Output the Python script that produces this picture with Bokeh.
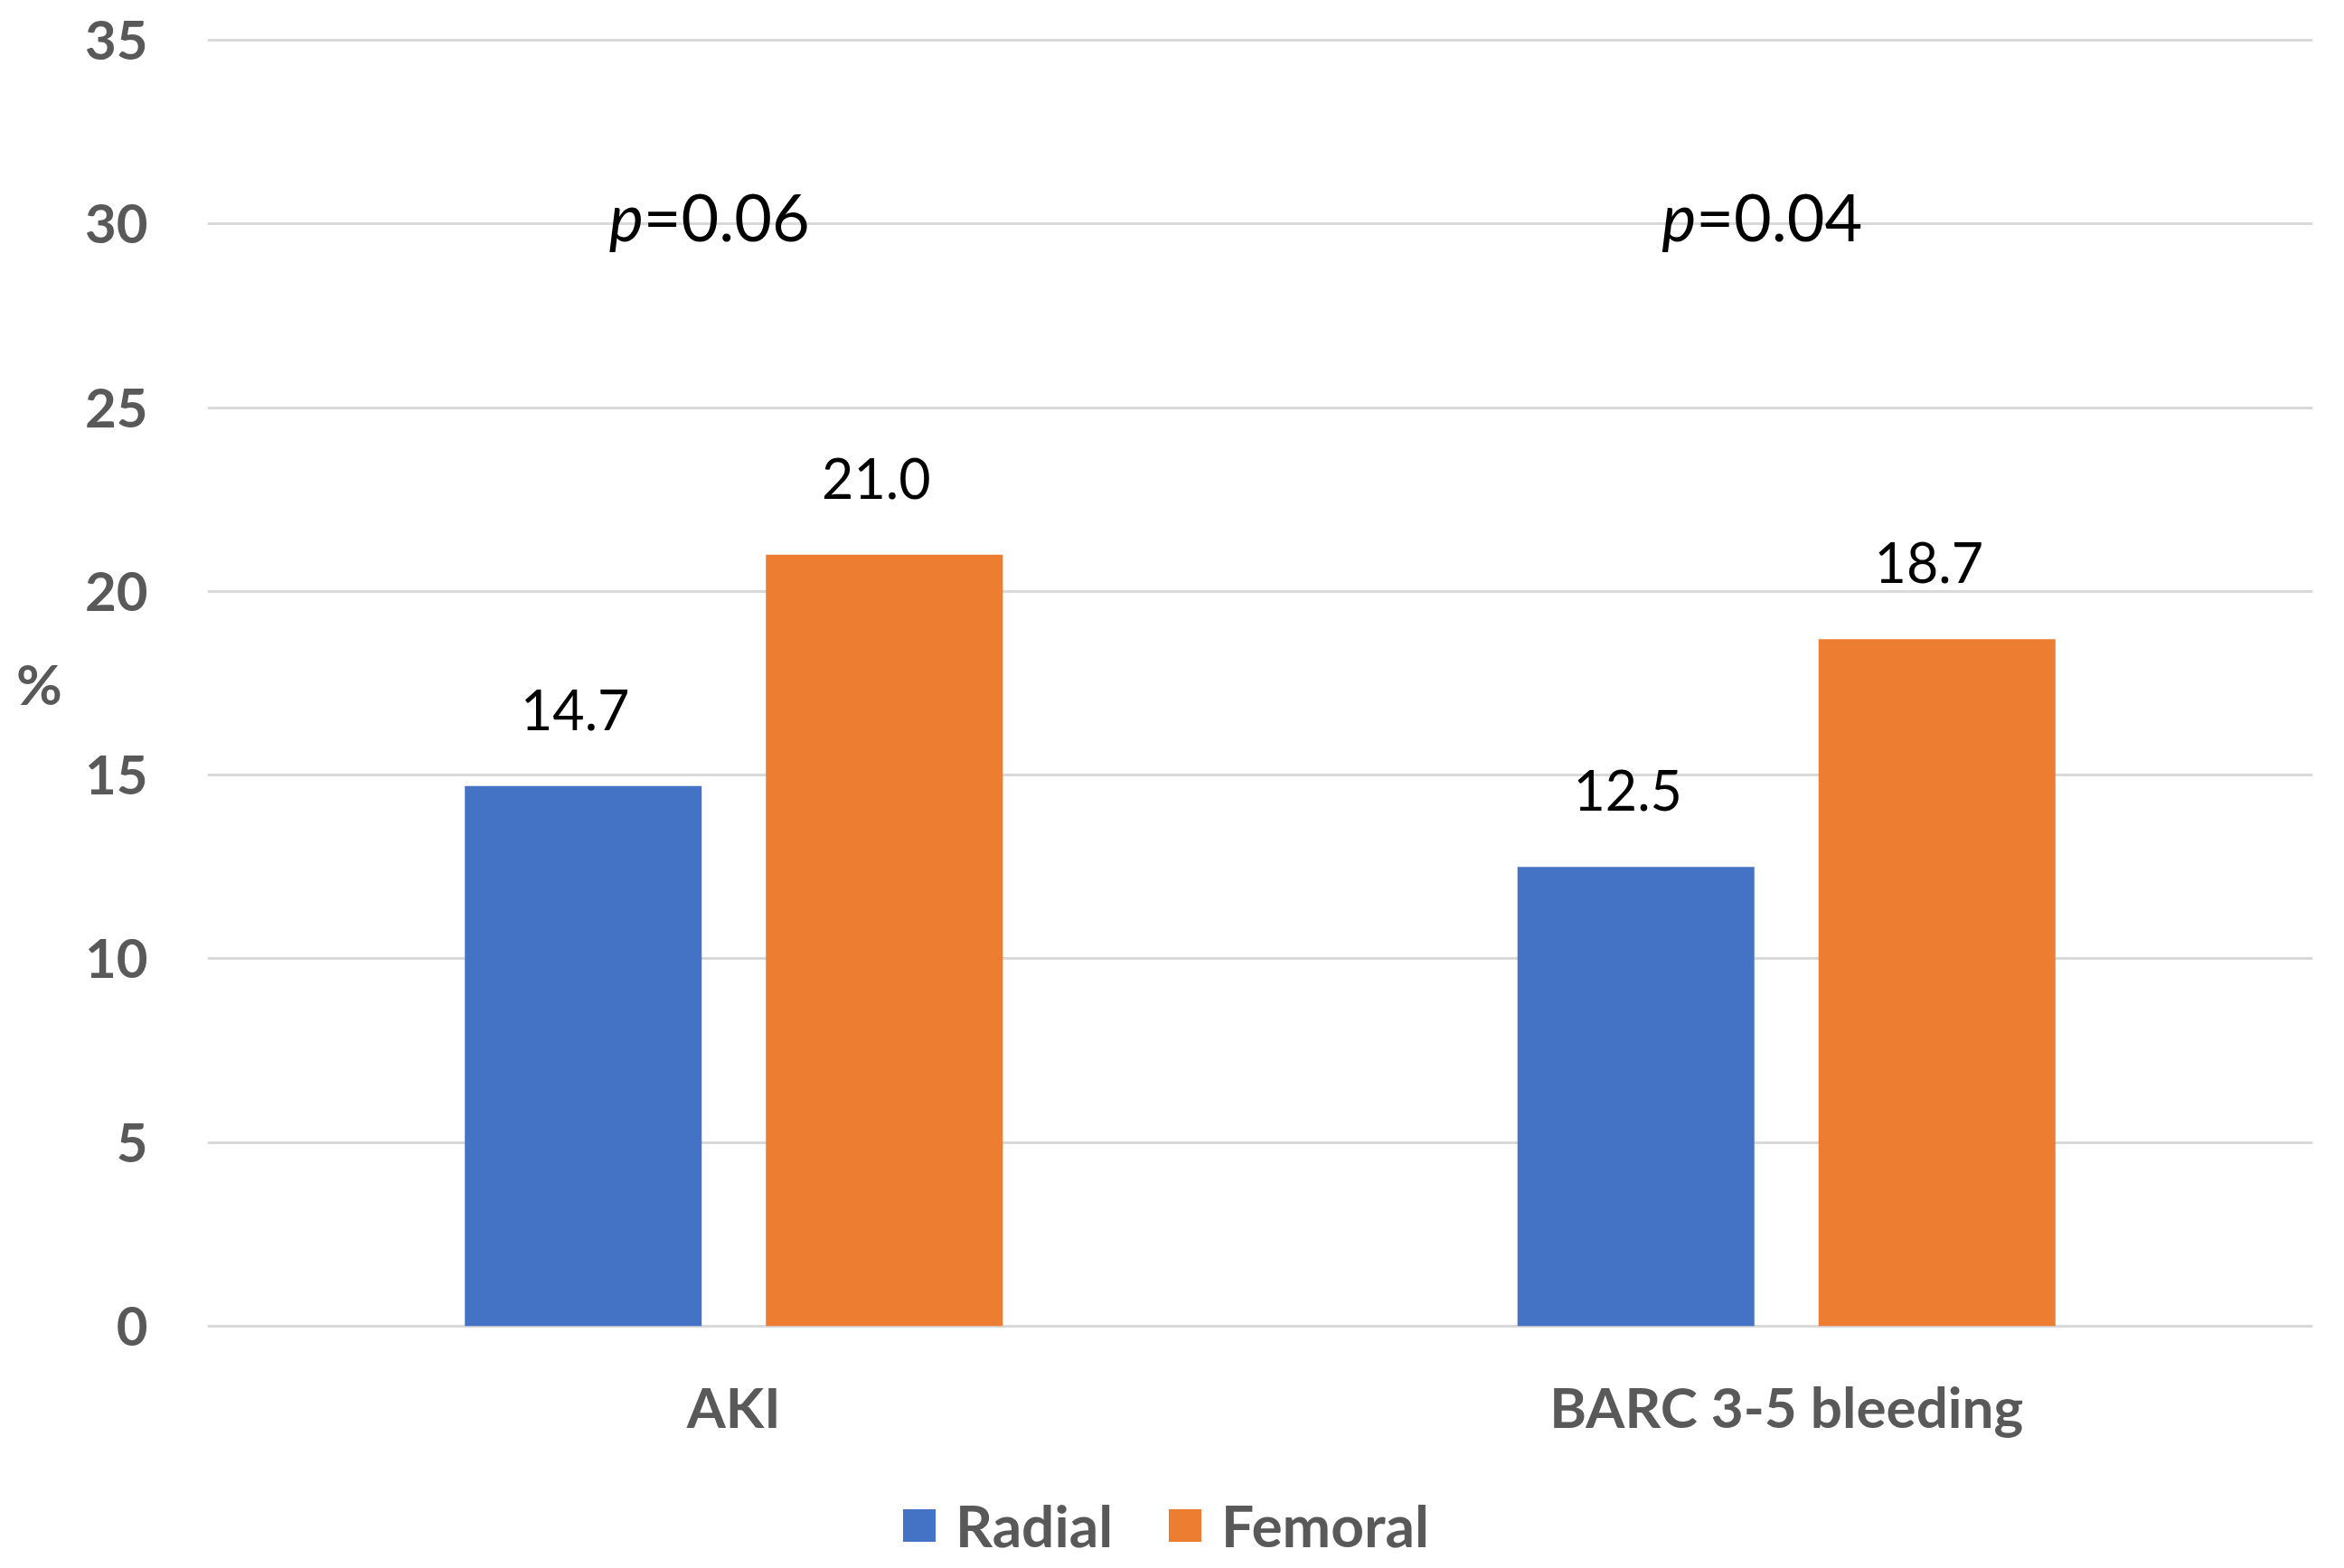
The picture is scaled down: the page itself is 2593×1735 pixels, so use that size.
from bokeh.plotting import figure
from bokeh.layouts import column
from bokeh.models import (FactorRange, Range1d, LabelSet, ColumnDataSource,
                          Legend, LegendItem, FixedTicker)
from bokeh.core.properties import value
from bokeh.transform import dodge
from bokeh.embed import file_html
from bokeh.resources import INLINE

# ---- data ----
categories = ["AKI", "BARC 3-5 bleeding"]
radial = [14.7, 12.5]
femoral = [21.0, 18.7]
series_names = ["Radial", "Femoral"]
p_values = ["0.06", "0.04"]
y_ticks = [0, 5, 10, 15, 20, 25, 30, 35]
p_label_level = 30

BLUE = "#4472C4"
ORANGE = "#ED7D31"
GRAY = "#595959"
FONT = "Lato"

TOTAL_W, TOTAL_H = 2593, 1735
LEG_H = 125

src = ColumnDataSource(dict(
    cat=categories,
    radial=radial,
    femoral=femoral,
    radial_txt=[f"{v:.1f}" for v in radial],
    femoral_txt=[f"{v:.1f}" for v in femoral],
    p_eq=["=" + s for s in p_values],
    p_sym=["p"] * len(categories),
    p_y=[p_label_level] * len(categories),
))

p = figure(x_range=FactorRange(factors=categories, range_padding=0),
           y_range=Range1d(-0.2, 35.2),
           width=TOTAL_W, height=TOTAL_H - LEG_H,
           output_backend="svg", toolbar_location=None,
           min_border_left=229, min_border_right=35,
           min_border_top=36, min_border_bottom=TOTAL_H - LEG_H - 1475)
p.outline_line_color = None
p.background_fill_color = "white"
p.border_fill_color = "white"

OFF = 0.143
W = 0.225
r1 = p.vbar(x=dodge("cat", -OFF, range=p.x_range), top="radial", width=W,
            source=src, fill_color=BLUE, line_color=None)
r2 = p.vbar(x=dodge("cat", OFF, range=p.x_range), top="femoral", width=W,
            source=src, fill_color=ORANGE, line_color=None)

# value labels
for xoff, field in ((-OFF, "radial_txt"), (OFF, "femoral_txt")):
    top_field = field.replace("_txt", "")
    p.add_layout(LabelSet(x=dodge("cat", xoff, range=p.x_range), y=top_field,
                          text=field, source=src, text_align="center",
                          text_baseline="alphabetic", y_offset=62, x_offset=-9,
                          text_font=value(FONT), text_font_size=value("61px"),
                          text_color=value("black")))

# p-values
p.add_layout(LabelSet(x="cat", y="p_y", text="p_sym", source=src,
                      text_align="right", text_baseline="alphabetic",
                      x_offset=-100, y_offset=-19, text_font=value(FONT),
                      text_font_style=value("italic"),
                      text_font_size=value("72px"),
                      text_color=value("black")))
p.add_layout(LabelSet(x="cat", y="p_y", text="p_eq", source=src,
                      text_align="left", text_baseline="alphabetic",
                      x_offset=-100, y_offset=-19, text_font=value(FONT),
                      text_font_size=value("72px"),
                      text_color=value("black")))

# axes
p.yaxis.ticker = FixedTicker(ticks=y_ticks)
for ax in (p.xaxis[0], p.yaxis[0]):
    ax.axis_line_color = None
    ax.major_tick_line_color = None
    ax.minor_tick_line_color = None
    ax.major_tick_out = 0
    ax.major_tick_in = 0
    ax.minor_tick_out = 0
    ax.major_label_text_font = FONT
    ax.major_label_text_font_style = "bold"
    ax.major_label_text_color = GRAY

p.yaxis.major_label_text_font_size = "60px"
p.yaxis.major_label_standoff = 66
p.xaxis.major_label_text_font_size = "62px"
p.xaxis.major_label_standoff = 43

p.yaxis.axis_label = "%"
p.yaxis.axis_label_text_font = FONT
p.yaxis.axis_label_text_font_style = "bold"
p.yaxis.axis_label_text_font_size = "62px"
p.yaxis.axis_label_text_color = GRAY
p.yaxis.axis_label_standoff = 22
try:
    p.yaxis.axis_label_orientation = "horizontal"
except Exception:
    pass

p.xgrid.grid_line_color = None
p.ygrid.grid_line_color = "#D9D9D9"
p.ygrid.grid_line_width = 3

# legend strip (separate plot so it is not clipped by the main frame);
# its renderers reuse the same data but are hidden, only their legend shows
leg = figure(width=TOTAL_W, height=LEG_H,
             x_range=FactorRange(factors=categories, range_padding=0),
             y_range=Range1d(-2, -1), x_axis_type=None, y_axis_type=None,
             output_backend="svg", toolbar_location=None, min_border=0)
leg.outline_line_color = None
leg.grid.visible = False
leg.background_fill_color = "white"
leg.border_fill_color = "white"
lr1 = leg.vbar(x="cat", top="radial", width=W, source=src,
               fill_color=BLUE, line_color=None, visible=False)
lr2 = leg.vbar(x="cat", top="femoral", width=W, source=src,
               fill_color=ORANGE, line_color=None, visible=False)
legend = Legend(items=[LegendItem(label=series_names[0], renderers=[lr1]),
                       LegendItem(label=series_names[1], renderers=[lr2])],
                orientation="horizontal", location=(765, 9),
                glyph_width=45, glyph_height=45, label_standoff=18,
                spacing=57, padding=0, margin=0, label_height=74,
                border_line_color=None, background_fill_alpha=0,
                inactive_fill_alpha=0,
                label_text_font=FONT, label_text_font_style="bold",
                label_text_font_size="64px", label_text_color=GRAY)
leg.add_layout(legend)

layout = column(p, leg, spacing=0)
open("out.html", "w").write(file_html(layout, INLINE))
